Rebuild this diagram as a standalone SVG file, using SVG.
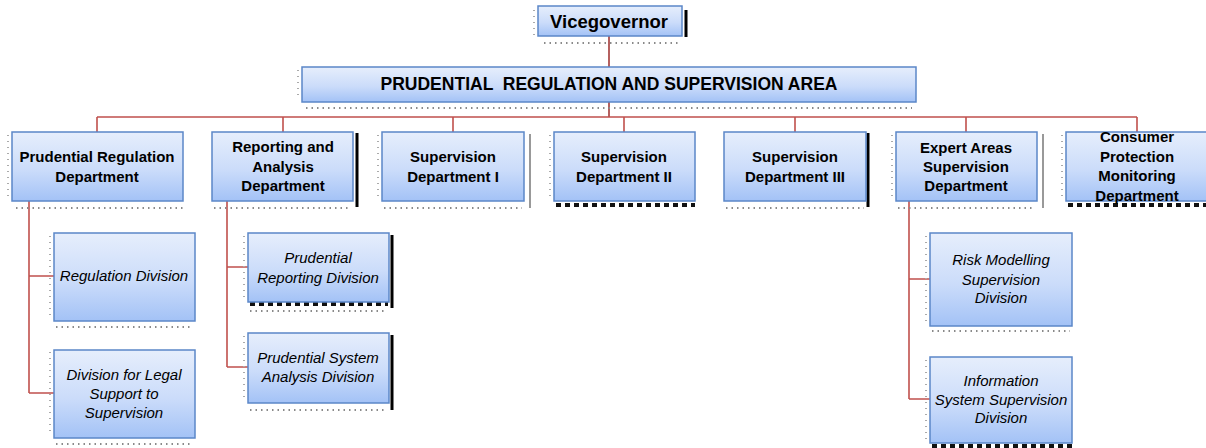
<svg xmlns="http://www.w3.org/2000/svg" width="1206" height="448" viewBox="0 0 1206 448">
<defs>
<linearGradient id="g" x1="0" y1="0" x2="0" y2="1">
<stop offset="0" stop-color="#e6eefc"/>
<stop offset="0.55" stop-color="#cbdcfa"/>
<stop offset="1" stop-color="#a3c2f6"/>
</linearGradient>
<style>
.box{fill:url(#g);stroke:#5b87c8;stroke-width:1.5}
.t{font-family:"Liberation Sans",Arial,sans-serif;font-size:15px;font-weight:bold;fill:#000;text-anchor:middle}
.s{font-family:"Liberation Sans",Arial,sans-serif;font-size:15px;font-style:italic;fill:#000;text-anchor:middle}
.c{fill:none;stroke:#c0504d;stroke-width:1.6}
.sh{fill:none;stroke:#8a8a8a;stroke-width:2;stroke-dasharray:1.5 4}
.shl{fill:none;stroke:#aaaaaa;stroke-width:2;stroke-dasharray:1 5}
.bk{fill:none;stroke:#000;stroke-width:3}
.bkd{fill:none;stroke:#111;stroke-width:4;stroke-dasharray:5 4}
.gb{fill:none;stroke:#999;stroke-width:2}
</style>
</defs>
<rect width="1206" height="448" fill="#fff"/>

<g id="connectors">
<path class="c" d="M609 36V67M609 102V117" style="stroke:#a33a38"/>
<path class="c" d="M97 117H1137M97 117V132M283 117V132M453 117V132M624 117V132M795 117V132M966 117V132M1137 117V132"/>
<path class="c" d="M29 201V393M29 276H54M29 393H54"/>
<path class="c" d="M227 201V367M227 267H248M227 367H248"/>
<path class="c" d="M909 201V399M909 279H930M909 399H930"/>
</g>

<g id="shadows">
<path class="sh" d="M544 43H680M306 108H912M16 208H183M214 208H350M384 208H522M726 208H864M898 208H1035M56 327H193M250 311H387M56 444H193M250 410H387M932 331H1070"/>
<path class="shl" d="M534 10V36M298 70V100M8 135V200M378 135V200M550 135V200M1062 135V200M892 135V200M50 236V320M50 352V436M244 236V300M244 336V400M926 236V324M926 360V440"/>
<path class="bk" d="M686 10V37M357 133V207M868 133V207M392 235V308M392 335V410"/>
<path class="bkd" d="M556 205H695M1068 205H1206M250 304H388M932 446H1072"/>
<path class="gb" d="M530 134V208M1043 134V208"/>
</g>

<g id="vicegovernor">
<rect class="box" x="538" y="6" width="144" height="30"/>
<text class="t" x="609" y="28" style="font-size:18.5px">Vicegovernor</text>
</g>

<g id="area">
<rect class="box" x="302" y="67" width="614" height="35"/>
<text class="t" x="609" y="90" style="font-size:17.5px;white-space:pre" textLength="457" lengthAdjust="spacingAndGlyphs">PRUDENTIAL  REGULATION AND SUPERVISION AREA</text>
</g>

<g id="dept-prudential-regulation">
<rect class="box" x="12" y="132" width="171" height="69"/>
<text class="t" x="97" y="162">Prudential Regulation</text>
<text class="t" x="97" y="182">Department</text>
</g>

<g id="dept-reporting">
<rect class="box" x="212" y="132" width="141" height="69"/>
<text class="t" x="283" y="152">Reporting and</text>
<text class="t" x="283" y="172">Analysis</text>
<text class="t" x="283" y="191">Department</text>
</g>

<g id="dept-supervision-1">
<rect class="box" x="382" y="132" width="142" height="69"/>
<text class="t" x="453" y="162">Supervision</text>
<text class="t" x="453" y="182">Department I</text>
</g>

<g id="dept-supervision-2">
<rect class="box" x="554" y="132" width="141" height="69"/>
<text class="t" x="624" y="162">Supervision</text>
<text class="t" x="624" y="182">Department II</text>
</g>

<g id="dept-supervision-3">
<rect class="box" x="724" y="132" width="142" height="69"/>
<text class="t" x="795" y="162">Supervision</text>
<text class="t" x="795" y="182">Department III</text>
</g>

<g id="dept-expert-areas">
<rect class="box" x="896" y="132" width="141" height="69"/>
<text class="t" x="966" y="153">Expert Areas</text>
<text class="t" x="966" y="172">Supervision</text>
<text class="t" x="966" y="191">Department</text>
</g>

<g id="dept-consumer-protection">
<rect class="box" x="1066" y="132" width="142" height="69"/>
<text class="t" x="1137" y="142">Consumer</text>
<text class="t" x="1137" y="162">Protection</text>
<text class="t" x="1137" y="181">Monitoring</text>
<text class="t" x="1137" y="201">Department</text>
</g>

<g id="div-regulation">
<rect class="box" x="54" y="233" width="141" height="88"/>
<text class="s" x="124" y="281">Regulation Division</text>
</g>

<g id="div-legal-support">
<rect class="box" x="54" y="350" width="141" height="88"/>
<text class="s" x="124" y="380">Division for Legal</text>
<text class="s" x="124" y="399">Support to</text>
<text class="s" x="124" y="418">Supervision</text>
</g>

<g id="div-prudential-reporting">
<rect class="box" x="248" y="233" width="141" height="69"/>
<text class="s" x="318" y="263">Prudential</text>
<text class="s" x="318" y="283">Reporting Division</text>
</g>

<g id="div-prudential-system-analysis">
<rect class="box" x="248" y="333" width="141" height="70"/>
<text class="s" x="318" y="363">Prudential System</text>
<text class="s" x="318" y="382">Analysis Division</text>
</g>

<g id="div-risk-modelling">
<rect class="box" x="930" y="233" width="142" height="93"/>
<text class="s" x="1001" y="265">Risk Modelling</text>
<text class="s" x="1001" y="285">Supervision</text>
<text class="s" x="1001" y="303">Division</text>
</g>

<g id="div-information-system">
<rect class="box" x="930" y="357" width="142" height="86"/>
<text class="s" x="1001" y="386">Information</text>
<text class="s" x="1001" y="405">System Supervision</text>
<text class="s" x="1001" y="423">Division</text>
</g>
</svg>
